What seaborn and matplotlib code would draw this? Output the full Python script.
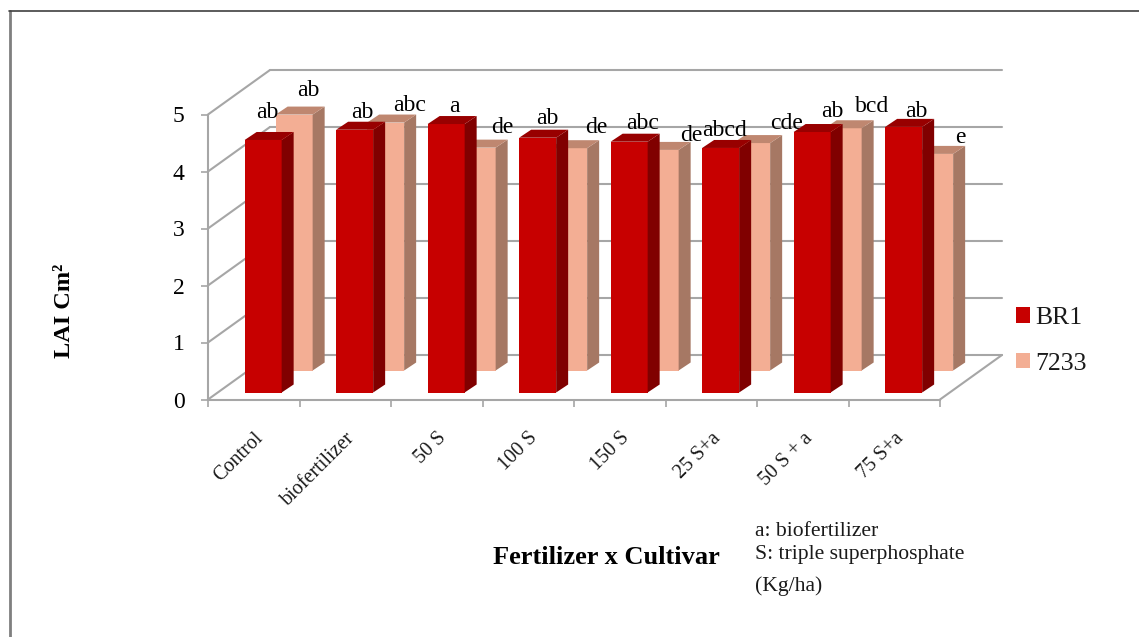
import matplotlib
matplotlib.use("Agg")
import matplotlib.pyplot as plt
import matplotlib.transforms as mtrans
import pandas as pd
import seaborn as sns
from matplotlib.lines import Line2D
from matplotlib.patches import Patch, Polygon

treatments = ["Control", "biofertilizer", "50 S", "100 S", "150 S", "25 S+a", "50 S + a", "75 S+a"]
br1_values = [4.43, 4.61, 4.71, 4.47, 4.40, 4.29, 4.57, 4.66]
c7233_values = [4.49, 4.35, 3.91, 3.90, 3.87, 3.99, 4.25, 3.80]
br1_letters = ["ab", "ab", "a", "ab", "abc", "abcd", "ab", "ab"]
c7233_letters = ["ab", "abc", "de", "de", "de", "cde", "bcd", "e"]

# letter offsets from the bar top, in pixels
br1_offsets = [(4, 22), (8, 12), (8, 12), (10, 14), (13, 13), (4, 12), (20, 15), (13, 10)]
c7233_offsets = [(14, 19), (24, 12), (25, 15), (28, 15), (31, 9), (35, 14), (29, 16), (26, 11)]

W, H = 1139, 637
PX_X = 91.5   # pixels per category
PX_Y = 57.0   # pixels per LAI unit
AX_LEFT, AX_BOTTOM = 208, 399.5
GREY = "#a6a6a6"
RED, PEACH = "#c70000", "#f3ae94"

sns.set_theme(style="white")
plt.rcParams["font.family"] = ["Liberation Serif", "DejaVu Serif"]

df = pd.DataFrame({"treatment": treatments, "BR1": br1_values, "7233": c7233_values})

fig = plt.figure(figsize=(W / 100, H / 100), dpi=100, facecolor="white")


def make_axes(shift_x=0, shift_y=0):
    rect = [(AX_LEFT + shift_x) / W, (H - AX_BOTTOM + shift_y) / H, 8 * PX_X / W, 5 * PX_Y / H]
    ax = fig.add_axes(rect)
    ax.patch.set_alpha(0)
    return ax


def bars_3d(ax, column, front, side, top, letters, offsets):
    sns.barplot(data=df, x="treatment", y=column, color=front, width=37 / PX_X,
                saturation=1, ax=ax, linewidth=0)
    ax.set_xlim(-0.5, 7.5)
    ax.set_ylim(0, 5)
    ax.axis("off")
    dx, dy = 12 / PX_X, 8 / PX_Y
    for patch, letter, off in zip(ax.patches, letters, offsets):
        x0, x1, h = patch.get_x(), patch.get_x() + patch.get_width(), patch.get_height()
        ax.add_patch(Polygon([(x1, 0), (x1 + dx, dy), (x1 + dx, h + dy), (x1, h)],
                             fc=side, ec="none", clip_on=False))
        ax.add_patch(Polygon([(x0, h), (x0 + dx, h + dy), (x1 + dx, h + dy), (x1, h)],
                             fc=top, ec="none", clip_on=False))
        ax.annotate(letter, (patch.get_x() + patch.get_width() / 2, h), xytext=off,
                    textcoords="offset pixels", ha="center", va="baseline",
                    fontsize=17, color="black", zorder=10, annotation_clip=False)


# walls and axis lines
frame = make_axes()
frame.set_xlim(-0.5, 7.5)
frame.set_ylim(0, 5)
wall_dx, wall_dy = 62 / PX_X, 44.5 / PX_Y
for y in range(6):
    frame.plot([-0.5, -0.5 + wall_dx], [y, y + wall_dy], color=GREY, lw=1.5, clip_on=False)
    frame.plot([-0.5 + wall_dx, 7.5 + wall_dx], [y + wall_dy] * 2, color=GREY, lw=1.5, clip_on=False)
frame.plot([7.5, 7.5 + wall_dx], [0, wall_dy], color=GREY, lw=1.5, clip_on=False)

sns.despine(ax=frame, top=True, right=True)
for name in ["left", "bottom"]:
    frame.spines[name].set_color(GREY)
    frame.spines[name].set_linewidth(1.5)
frame.set_yticks(range(6))
frame.set_xticks([i - 0.5 for i in range(9)])
frame.set_xticklabels([])
frame.set_xticks(range(8), minor=True)
frame.set_xticklabels(treatments, minor=True, rotation=45, ha="right", rotation_mode="anchor",
                      fontsize=14.5, color="#1a1a1a")
nudge = mtrans.ScaledTranslation(-7 / 100, 0, fig.dpi_scale_trans)
for lab in frame.get_xticklabels(minor=True):
    lab.set_transform(lab.get_transform() + nudge)
frame.tick_params(axis="x", which="major", length=5, width=1.2, color=GREY, bottom=True)
frame.tick_params(axis="x", which="minor", length=0, pad=21, bottom=True)
frame.tick_params(axis="y", length=5, width=1.2, color=GREY, pad=12, labelsize=17,
                  left=True, labelcolor="black")
frame.set_xlabel("")
frame.set_ylabel("")

back = make_axes(31, 29)
bars_3d(back, "7233", PEACH, "#a67864", "#bf8770", c7233_letters, c7233_offsets)
front = make_axes(0, 7)
bars_3d(front, "BR1", RED, "#800000", "#980000", br1_letters, br1_offsets)
# seaborn centres bars on the category, shift to their slot in the depth
for ax, shift in ((back, 9.4), (front, 9.4)):
    pos = ax.get_position()
    ax.set_position([pos.x0 + shift / W, pos.y0, pos.width, pos.height])

handles = [Patch(fc=RED, ec="none"), Patch(fc=PEACH, ec="none")]
fig.legend(handles, ["BR1", "7233"], loc="upper left", bbox_to_anchor=(1016 / W, 1 - 307 / H),
           frameon=False, fontsize=18.5, handlelength=0.55, handleheight=0.55, handletextpad=0.2,
           labelspacing=0.92, borderpad=0, borderaxespad=0, labelcolor="#1a1a1a")

fig.text(65 / W, 1 - 311 / H, "LAI Cm²", rotation=90, fontsize=17.5, fontweight="bold",
         ha="center", va="center", color="black")
fig.text(606 / W, 1 - 558 / H, "Fertilizer x Cultivar", fontsize=19, fontweight="bold",
         ha="center", va="center", color="black")
fig.text(755 / W, 1 - 532 / H, "a: biofertilizer", fontsize=15.6, va="center", color="#1a1a1a")
fig.text(755 / W, 1 - 555 / H, "S: triple superphosphate", fontsize=15.6, va="center", color="#1a1a1a")
fig.text(755 / W, 1 - 586 / H, "(Kg/ha)", fontsize=15.6, va="center", color="#1a1a1a")

# outer chart border, cut by the screenshot on the right and bottom
fig.add_artist(Line2D([9.5 / W, 9.5 / W], [0, 1 - 10.5 / H], color="#7f7f7f", lw=2))
fig.add_artist(Line2D([9 / W, 1], [1 - 10.5 / H, 1 - 10.5 / H], color="#404040", lw=1.2))

fig.savefig("out.png", dpi=100)
